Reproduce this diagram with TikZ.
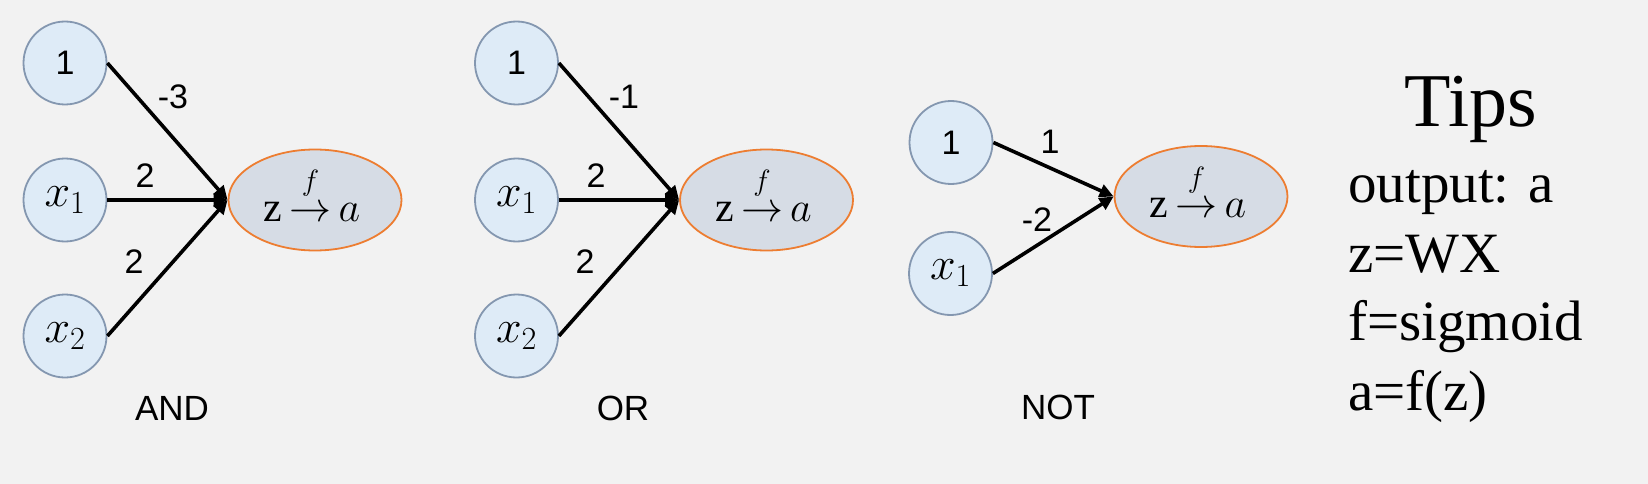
\documentclass[tikz,border=0pt]{standalone}
\usepackage{fix-cm}
\usepackage{amsmath}
\usepackage{fontspec}
\setmainfont{Liberation Serif}
\newfontfamily\arialf{Liberation Sans}
\usetikzlibrary{arrows.meta,shapes.geometric}
\definecolor{bg}{HTML}{F2F2F2}
\definecolor{cfill}{HTML}{DEEBF7}
\definecolor{cdraw}{HTML}{8497B0}
\definecolor{efill}{HTML}{D6DCE5}
\definecolor{edraw}{HTML}{ED7D31}
\newcommand\numfnt{\arialf\fontsize{34}{38}\selectfont}
\newcommand\mathfnt{\fontsize{46}{52}\selectfont}
\newcommand\neur{$\mathrm{z}\mskip3mu{\overset{\raisebox{10pt}{$\scriptstyle f$}}{\to}}\mskip3mu a$}
\begin{document}
\begin{tikzpicture}[x=1pt,y=-1pt,
  inp/.style={circle, draw=cdraw, fill=cfill, line width=1.8pt, minimum size=83pt, inner sep=0pt},
  outp/.style={ellipse, draw=edraw, fill=efill, line width=1.8pt, minimum width=173pt, minimum height=101pt, inner sep=0pt},
  neurtxt/.style={inner sep=0pt, anchor=base, font=\fontsize{42}{48}\selectfont},
  wt/.style={inner sep=0pt, font=\numfnt},
  gatecap/.style={inner sep=0pt, font=\arialf\fontsize{35}{40}\selectfont},
  conn/.style={line width=3.6pt, -{Triangle[length=14pt,width=13pt]}},
  tipl/.style={inner sep=0pt, anchor=base west, font=\fontsize{57}{64}\selectfont}]
\fill[bg] (0,0) rectangle (1648,484);
\useasboundingbox (0,0) rectangle (1648,484);
% AND
\node[inp, font=\numfnt] (a1) at (65,63) {1};
\node[inp, font=\mathfnt] (ax1) at (65,200) {$x_1$};
\node[inp, font=\mathfnt] (ax2) at (65,336) {$x_2$};
\node[outp] (ae) at (315,200) {};
\node[neurtxt] (aet) at ([xshift=-3pt,yshift=-21pt]ae.center) {\neur};
\draw[conn] (a1.east) -- (ae.west);
\draw[conn] (ax1.east) -- (ae.west);
\draw[conn] (ax2.east) -- (ae.west);
\node[wt] (aw1) at (173,97) {-3};
\node[wt] (aw2) at (145,176) {2};
\node[wt] (aw3) at (134,262) {2};
\node[gatecap] (acap) at (172,408) {AND};
% OR
\node[inp, font=\numfnt] (o1) at (516.5,63) {1};
\node[inp, font=\mathfnt] (ox1) at (516.5,200) {$x_1$};
\node[inp, font=\mathfnt] (ox2) at (516.5,336) {$x_2$};
\node[outp] (oe) at (766.5,200) {};
\node[neurtxt] (oet) at ([xshift=-3pt,yshift=-21pt]oe.center) {\neur};
\draw[conn] (o1.east) -- (oe.west);
\draw[conn] (ox1.east) -- (oe.west);
\draw[conn] (ox2.east) -- (oe.west);
\node[wt] (ow1) at (624,97) {-1};
\node[wt] (ow2) at (596,176) {2};
\node[wt] (ow3) at (585,262) {2};
\node[gatecap] (ocap) at (623,408) {OR};
% NOT
\node[inp, font=\numfnt] (n1) at (951,142.5) {1};
\node[inp, font=\mathfnt] (nx1) at (950.5,273.5) {$x_1$};
\node[outp] (ne) at (1201,196.5) {};
\node[neurtxt] (net) at ([xshift=-3pt,yshift=-21pt]ne.center) {\neur};
\draw[conn] (n1.east) -- (ne.west);
\draw[conn] (nx1.east) -- (ne.west);
\node[wt] (nw1) at (1050,142) {1};
\node[wt] (nw2) at (1037,220) {-2};
\node[gatecap] (ncap) at (1058,407) {NOT};
% Tips
\node[inner sep=0pt, anchor=base, font=\fontsize{76}{80}\selectfont] (tips) at (1471,127) {Tips};
\node[tipl] (t1) at (1348,202) {output: a};
\node[tipl] (t2) at (1348,272) {z=WX};
\node[tipl] (t3) at (1348,340) {f=sigmoid};
\node[tipl] (t4) at (1348,410) {a=f(z)};
\end{tikzpicture}
\end{document}
